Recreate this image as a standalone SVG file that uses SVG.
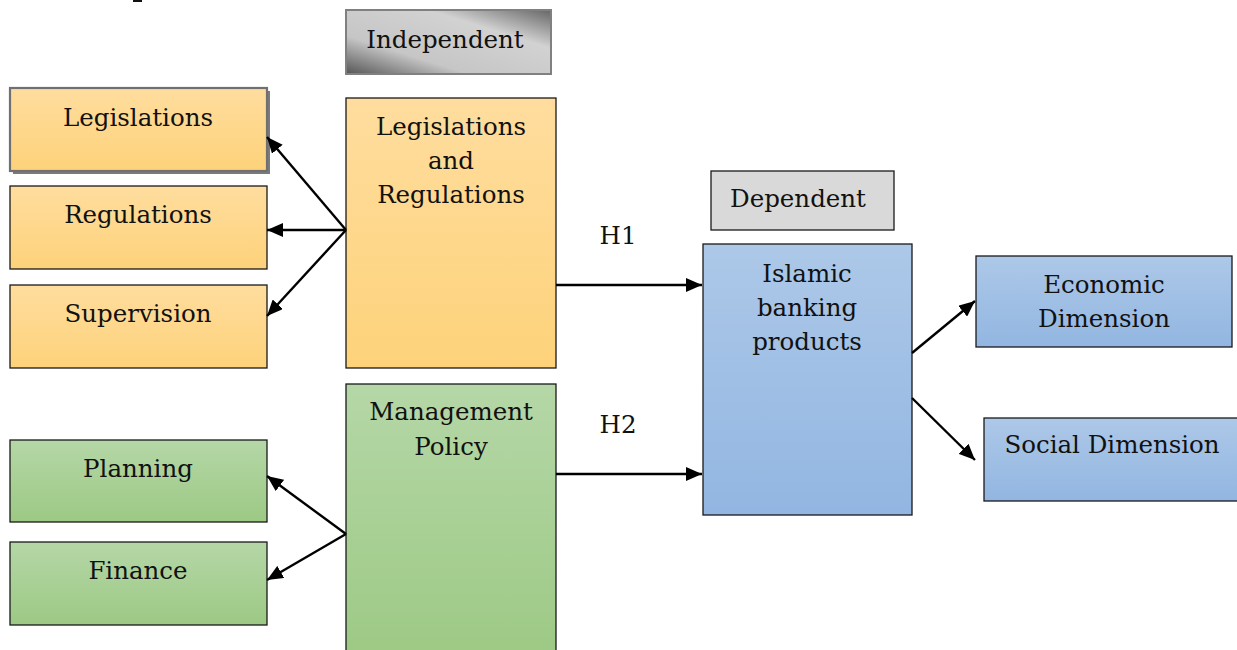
<svg xmlns="http://www.w3.org/2000/svg" width="1237" height="650" viewBox="0 0 1237 650">
<defs>
<linearGradient id="gOr" x1="0" y1="0" x2="0" y2="1"><stop offset="0" stop-color="#ffdd9e"/><stop offset="1" stop-color="#fdd27a"/></linearGradient>
<linearGradient id="gGr" x1="0" y1="0" x2="0" y2="1"><stop offset="0" stop-color="#b5d7a7"/><stop offset="1" stop-color="#9cc984"/></linearGradient>
<linearGradient id="gBl" x1="0" y1="0" x2="0" y2="1"><stop offset="0" stop-color="#adc8e8"/><stop offset="1" stop-color="#92b6e1"/></linearGradient>
<linearGradient id="gGy" x1="0" y1="1" x2="1" y2="0"><stop offset="0" stop-color="#555"/><stop offset="0.3" stop-color="#c6c6c6"/><stop offset="0.7" stop-color="#d2d2d2"/><stop offset="1" stop-color="#666"/></linearGradient>
<marker id="ah" viewBox="0 0 16 14" refX="16" refY="7" markerWidth="16" markerHeight="14" markerUnits="userSpaceOnUse" orient="auto"><path d="M0,0 L16,7 L0,14 Z" fill="#000"/></marker>
<style>
text{font-family:"DejaVu Serif","Liberation Serif",serif;font-size:24.5px;fill:#111;text-anchor:middle}
.b{stroke:#1a1a1a;stroke-width:1.3}
.c{stroke:#000;stroke-width:2.4;fill:none;marker-end:url(#ah)}
</style>
</defs>
<rect x="133" y="0" width="9" height="2" fill="#111"/>
<g id="independent"><rect x="346" y="10" width="205" height="64" fill="url(#gGy)" stroke="#808080" stroke-width="2"/><text x="445" y="48">Independent</text></g>
<g id="legislations"><rect x="13" y="91" width="257" height="83" fill="#7a7a7a"/><rect x="10" y="88" width="257" height="83" fill="url(#gOr)" stroke="#707070" stroke-width="2.2"/><text x="138" y="126">Legislations</text></g>
<g id="regulations"><rect x="10" y="186" width="257" height="83" fill="url(#gOr)" class="b"/><text x="138" y="223">Regulations</text></g>
<g id="supervision"><rect x="10" y="285" width="257" height="83" fill="url(#gOr)" class="b"/><text x="138" y="322">Supervision</text></g>
<g id="legreg"><rect x="346" y="98" width="210" height="270" fill="url(#gOr)" class="b"/><text x="451" y="135">Legislations</text><text x="451" y="169">and</text><text x="451" y="203">Regulations</text></g>
<g id="mgmt"><rect x="346" y="384" width="210" height="280" fill="url(#gGr)" class="b"/><text x="451" y="420">Management</text><text x="451" y="455">Policy</text></g>
<g id="planning"><rect x="10" y="440" width="257" height="82" fill="url(#gGr)" class="b"/><text x="138" y="477">Planning</text></g>
<g id="finance"><rect x="10" y="542" width="257" height="83" fill="url(#gGr)" class="b"/><text x="138" y="579">Finance</text></g>
<g id="dependent"><rect x="711" y="171" width="183" height="59" fill="#d9d9d9" class="b"/><text x="798" y="207">Dependent</text></g>
<g id="islamic"><rect x="703" y="244" width="209" height="271" fill="url(#gBl)" class="b"/><text x="807" y="282">Islamic</text><text x="807" y="316">banking</text><text x="807" y="350">products</text></g>
<g id="economic"><rect x="976" y="256" width="256" height="91" fill="url(#gBl)" class="b"/><text x="1104" y="293">Economic</text><text x="1104" y="327">Dimension</text></g>
<g id="social"><rect x="984" y="418" width="262" height="83" fill="url(#gBl)" class="b"/><text x="1112" y="453">Social Dimension</text></g>
<g id="connectors">
<line x1="346" y1="230" x2="267" y2="137" class="c"/>
<line x1="346" y1="230" x2="267" y2="230" class="c"/>
<line x1="346" y1="230" x2="267" y2="316" class="c"/>
<line x1="346" y1="534" x2="267" y2="476" class="c"/>
<line x1="346" y1="534" x2="267" y2="580" class="c"/>
<line x1="556" y1="285" x2="702" y2="285" class="c"/>
<line x1="556" y1="474" x2="702" y2="474" class="c"/>
<line x1="912" y1="353" x2="975" y2="301" class="c"/>
<line x1="912" y1="398" x2="975" y2="460" class="c"/>
<text x="618" y="244">H1</text>
<text x="618" y="433">H2</text>
</g>
</svg>
